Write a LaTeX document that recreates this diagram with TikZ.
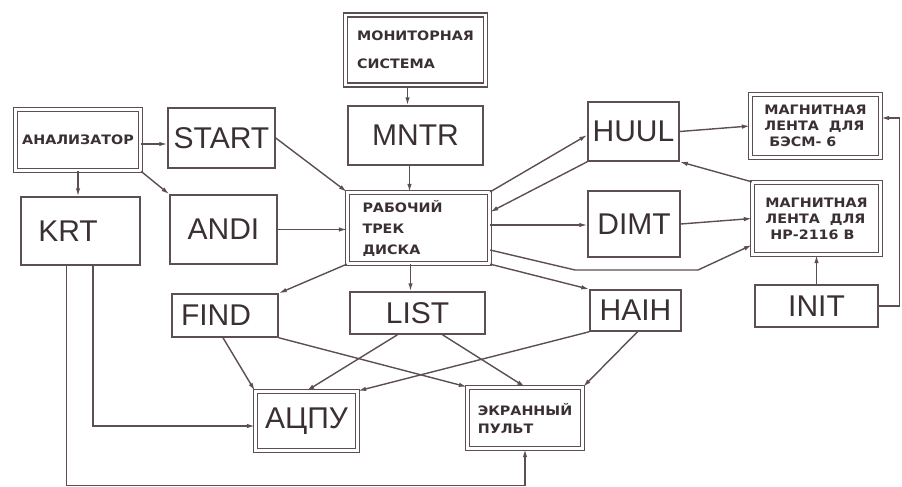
\documentclass[tikz,border=0pt]{standalone}
\usepackage{fontspec}
\setmainfont{Liberation Sans}
\newfontfamily\labfont[FakeStretch=1.1]{DejaVu Sans}
\usetikzlibrary{arrows.meta}
\definecolor{ink}{RGB}{92,78,82}
\definecolor{txt}{RGB}{58,48,52}

\begin{document}
\begin{tikzpicture}[
  x=1pt, y=-1pt,
  blk/.style={rectangle, draw=ink, line width=1.5pt, text=txt, font=\fontsize{30}{32}\selectfont, inner sep=0pt},
  dblk/.style={rectangle, draw=ink, line width=1.3pt, double=white, double distance=2.6pt, text=txt, font=\labfont\bfseries\fontsize{13}{16}\selectfont, align=left, inner sep=0pt},
  arr/.style={-{Latex[length=8pt,width=4.5pt]}, draw=ink, line width=1.4pt},
]
\useasboundingbox (0,0) rectangle (902,487);

%% Top row
\node[dblk, minimum width=140pt, minimum height=70pt, font=\labfont\bfseries\fontsize{13}{28}\selectfont] (mon) at (415.5,50) {МОНИТОРНАЯ\\СИСТЕМА};
\node[dblk, minimum width=125pt, minimum height=61.5pt] (anal) at (78,140) {АНАЛИЗАТОР};
\node[blk, minimum width=107pt, minimum height=60pt] (start) at (221.5,138) {START};
\node[blk, minimum width=135pt, minimum height=59pt] (mntr) at (415.5,135.5) {MNTR};
\node[blk, minimum width=91pt, minimum height=59pt] (huul) at (633.5,131.5) {HUUL};
\node[dblk, minimum width=130pt, minimum height=63pt] (besm) at (815.5,126) {МАГНИТНАЯ\\ЛЕНТА\ \ ДЛЯ\\\hspace*{5pt}БЭСМ- 6};

%% Middle row
\node[blk, minimum width=119pt, minimum height=68pt] (krt) at (80.5,231) {KRT\hspace*{25pt}};
\node[blk, minimum width=107pt, minimum height=69pt] (andi) at (223.5,229.5) {ANDI};
\node[dblk, minimum width=142pt, minimum height=71pt, text width=112pt, font=\labfont\bfseries\fontsize{13}{21}\selectfont] (disk) at (418.5,228) {РАБОЧИЙ\\ТРЕК\\ДИСКА};
\node[blk, minimum width=92pt, minimum height=66pt] (dimt) at (634,224) {DIMT};
\node[dblk, minimum width=128pt, minimum height=72pt] (hp) at (816.5,218.5) {МАГНИТНАЯ\\ЛЕНТА\ \ ДЛЯ\\\hspace*{5pt}НР-2116 В};

%% Lower row
\node[blk, minimum width=106pt, minimum height=43pt] (find) at (225,315.5) {FIND\hspace*{18pt}};
\node[blk, minimum width=135pt, minimum height=42pt] (list) at (417.5,313) {LIST};
\node[blk, minimum width=91pt, minimum height=41pt] (haih) at (635.5,310.5) {HAIH};
\node[blk, minimum width=123pt, minimum height=42pt] (init) at (816.5,306) {INIT};

%% Devices
\node[dblk, minimum width=102pt, minimum height=59pt, font=\fontsize{30}{32}\selectfont] (acpu) at (306.5,421) {АЦПУ};
\node[dblk, minimum width=115pt, minimum height=61pt, font=\labfont\bfseries\fontsize{13}{18}\selectfont] (ekran) at (525,418) {ЭКРАННЫЙ\\ПУЛЬТ};

%% Monitor and analyser
\draw[arr] ([xshift=-8pt]mon.south) -- ([xshift=-8pt]mntr.north);
\draw[arr] ([xshift=-6pt]mntr.south) -- ([xshift=-6pt]mntr.south |- disk.north);
\draw[arr] ([yshift=-4pt]anal.east) -- ([yshift=-6pt]start.west);
\draw[arr] (anal.south) -- (anal.south |- krt.north);
\draw[arr] (anal.south east) -- (andi.north west);
\draw[arr] (start.east) -- (disk.north west);
\draw[arr] (andi.east) -- (andi.east -| disk.west);

%% Disk track to the right
\draw[arr] (disk.north east) -- ([yshift=-3.5pt]huul.west);
\draw[arr] (huul.south west) -- ([yshift=16pt]disk.east);
\draw[arr] ([yshift=3pt]disk.east) -- ([yshift=3pt]disk.east -| dimt.west);
\draw[arr] ([yshift=-22pt]disk.east) -- (575,270) -- (698,270) -- ([yshift=-26.5pt]hp.west);
\draw[arr] (disk.south east) -- (haih.north west);
\draw[arr] (huul.east) -- (besm.west);
\draw[arr] (hp.north west) -- (huul.south east);
\draw[arr] (dimt.east) -- (hp.west);
\draw[arr] (init.north) -- (hp.south);
\draw[arr] (init.east) -- ++(21,0) |- ([yshift=8pt]besm.east);

%% Disk track downwards
\draw[arr] (disk.south west) -- (find.north east);
\draw[arr] ([xshift=-8pt]disk.south) -- ([xshift=-8pt]disk.south |- list.north);

%% To the devices
\draw[arr] ([xshift=-2pt]find.south) -- (acpu.north west);
\draw[arr] (find.south east) -- (ekran.north west);
\draw[arr] ([xshift=-20pt]list.south) -- (acpu.north);
\draw[arr] ([xshift=25pt]list.south) -- (ekran.north);
\draw[arr] (haih.south west) -- (acpu.north east);
\draw[arr] ([xshift=2pt]haih.south) -- (ekran.north east);
\draw[arr] ([xshift=12.5pt]krt.south) |- ([yshift=-5pt]acpu.west);
\draw[arr] ([xshift=-14pt]krt.south) -- ++(0,220) -| (ekran.south);
\end{tikzpicture}
\end{document}
